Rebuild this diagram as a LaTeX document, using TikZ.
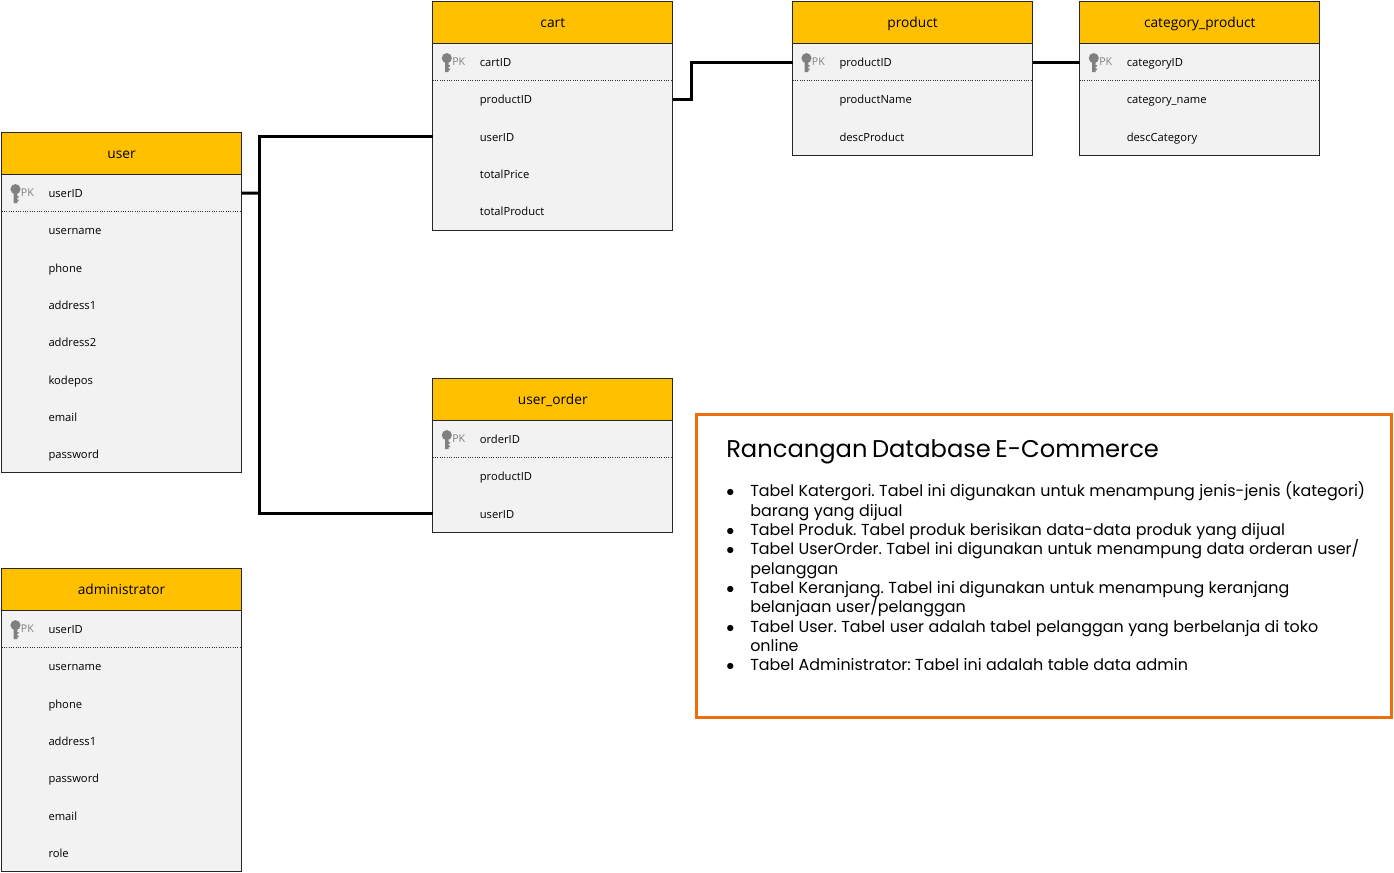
\documentclass[tikz,border=0pt]{standalone}
\usepackage{fontspec}
\usepackage{xcolor}
\setmainfont{Open Sans}
\newfontfamily\notefont[WordSpace=1.25]{Poppins}
\usetikzlibrary{positioning}
\definecolor{headgold}{HTML}{FFC000}
\definecolor{rowgray}{HTML}{F2F2F2}
\definecolor{keygray}{HTML}{808080}
\definecolor{noteorange}{HTML}{EB6F0A}
\tikzset{
    tabletitle/.style = {draw=black!85, fill=headgold, line width=0.75pt, minimum width=180pt, minimum height=31.5pt, inner sep=0pt, outer sep=0pt, text height=8pt, text depth=1pt, font=\fontsize{10.3}{12}\selectfont},
    tablerow/.style = {fill=rowgray, text width=109.5pt, inner xsep=35.25pt, inner ysep=0pt, minimum height=27.98pt, outer sep=0pt, align=left, text height=8pt, text depth=1.2pt, font=\fontsize{8.4}{10}\selectfont},
    tableframe/.style = {draw=black!85, line width=0.75pt},
    rowrule/.style = {draw=black!80, line width=0.75pt, densely dotted},
    pktext/.style = {text=keygray, inner sep=0pt, outer sep=0pt, font=\fontsize{8}{10}\selectfont},
    relation/.style = {draw=black, line width=2.25pt, line join=miter},
    notebox/.style = {draw=noteorange, line width=2.25pt, minimum width=521.6pt, minimum height=227.6pt, inner sep=0pt, outer sep=0pt}
}
% table: name, left, top, title, number of rows, rows
\newcommand{\erdtable}[6]{
    \node [tabletitle, anchor=north west] (#1-0) at (#2,#3) {#4};
    \foreach \rowtext [count=\i, remember=\i as \previ (initially 0)] in {#6} {
        \node [tablerow, below=0pt of #1-\previ] (#1-\i) {\rowtext};
    }
    \draw [tableframe] (#1-1.north west) rectangle (#1-#5.south east);
    \draw [rowrule] (#1-1.south west) -- (#1-1.south east);
    % key icon
    \fill [keygray, shift={(#1-1.west)}] (14,-4) circle [radius=3.8pt]
        (12.2,-3) rectangle (15.8,10) (15.8,3) rectangle (17.2,4.5) (15.8,6.5) rectangle (17.2,8);
    \node [pktext, anchor=west, xshift=14.6pt] (#1-pk) at (#1-1.west) {PK};
}

\begin{document}
\begin{tikzpicture}
            [x=0.75pt, y=-0.75pt]

            \useasboundingbox (0,0) rectangle (1394,873);

            \erdtable{user}{1.5}{132.5}{user}{8}{userID,username,phone,address1,address2,kodepos,email,password}
            \erdtable{cart}{432.8}{1.5}{cart}{5}{cartID,productID,userID,totalPrice,totalProduct}
            \erdtable{product}{792.5}{1.5}{product}{3}{productID,productName,descProduct}
            \erdtable{category}{1079.8}{1.5}{category\_product}{3}{categoryID,category\_name,descCategory}
            \erdtable{order}{432.8}{378.5}{user\_order}{3}{orderID,productID,userID}
            \erdtable{admin}{1.5}{568.5}{administrator}{7}{userID,username,phone,address1,password,email,role}

            % relations
            \coordinate (trunk) at (259,193);
            \draw [relation] (user-1.east) -- (trunk);
            \draw [relation] (trunk) |- (cart-3.west);
            \draw [relation] (trunk) |- (order-3.west);
            \draw [relation] (cart-2.east) -- ++(18.5,0) |- (product-1.west);
            \draw [relation] (product-1.east) -- (category-1.west);

            % notes
            \node [notebox, anchor=north west] (notes) at (696,414) {};
            \node [anchor=north west, inner sep=0pt, text width=490pt, align=left] (notes-text) at (726,439) {%
                {\notefont\fontsize{18.15}{24}\selectfont Rancangan Database E-Commerce\par}
                \vspace{12.7pt}
                \notefont\fontsize{11.95}{14.5}\selectfont\frenchspacing
                \begin{list}{\makebox[18pt][l]{$\bullet$}}{\leftmargin=18pt \labelwidth=18pt \labelsep=0pt \itemsep=0pt \parsep=0pt \topsep=0pt \partopsep=0pt \itemindent=0pt}
                    \item Tabel Katergori. Tabel ini digunakan untuk menampung jenis-jenis (kategori)\\barang yang dijual
                    \item Tabel Produk. Tabel produk berisikan data-data produk yang dijual
                    \item Tabel UserOrder. Tabel ini digunakan untuk menampung data orderan user/\\pelanggan
                    \item Tabel Keranjang. Tabel ini digunakan untuk menampung keranjang\\belanjaan user/pelanggan
                    \item Tabel User. Tabel user adalah tabel pelanggan yang berbelanja di toko\\online
                    \item Tabel Administrator: Tabel ini adalah table data admin
                \end{list}
            };
        \end{tikzpicture}
\end{document}
